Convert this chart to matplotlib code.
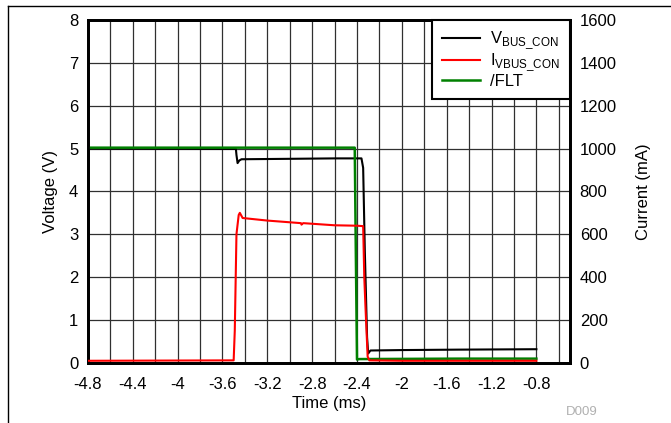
import matplotlib.pyplot as plt
from matplotlib.lines import Line2D

plt.rcParams['font.family'] = ['Liberation Sans', 'DejaVu Sans']

# VBUS_CON voltage (V)
t_vbus = [-4.8, -3.48, -3.475, -3.465, -3.45, -3.43, -3.0, -2.6, -2.36, -2.345, -2.33, -2.31, -2.30, -2.28, -2.0, -1.5, -0.8]
v_vbus = [5.0, 4.99, 4.85, 4.66, 4.72, 4.75, 4.76, 4.77, 4.77, 4.55, 2.6, 0.6, 0.22, 0.29, 0.30, 0.31, 0.32]

# IVBUS_CON current (mA)
t_ibus = [-4.8, -3.5, -3.49, -3.475, -3.455, -3.445, -3.42, -3.2, -3.0, -2.9, -2.895, -2.88, -2.6, -2.4, -2.345, -2.335, -2.325, -2.315, -2.305, -2.29, -2.0, -0.8]
i_ibus = [10, 12, 150, 600, 690, 700, 676, 664, 656, 652, 645, 652, 642, 640, 638, 400, 270, 150, 30, 12, 10, 10]

# /FLT voltage (V)
t_flt = [-4.8, -2.42, -2.41, -2.40, -2.38, -1.5, -0.8]
v_flt = [5.02, 5.02, 2.5, 0.08, 0.09, 0.10, 0.10]

x_ticks = [-4.8, -4.4, -4, -3.6, -3.2, -2.8, -2.4, -2, -1.6, -1.2, -0.8]
x_tick_labels = ['-4.8', '-4.4', '-4', '-3.6', '-3.2', '-2.8', '-2.4', '-2', '-1.6', '-1.2', '-0.8']

fig = plt.figure(figsize=(6.71, 4.23), dpi=100)
ax = fig.add_axes([0.131, 0.142, 0.7185, 0.811])
ax2 = ax.twinx()

l1, = ax.plot(t_vbus, v_vbus, color='black', lw=1.5, zorder=3)
l3, = ax.plot(t_flt, v_flt, color='#008000', lw=1.8, zorder=4)
l2, = ax2.plot(t_ibus, i_ibus, color='red', lw=1.5, zorder=3)

ax.set_xlim(-4.8, -0.5)
ax.set_ylim(0, 8)
ax2.set_ylim(0, 1600)
ax.set_xticks(x_ticks)
ax.set_xticklabels(x_tick_labels)
ax.set_xticks([x + 0.2 for x in x_ticks], minor=True)
ax.set_yticks(range(0, 9))
ax2.set_yticks(range(0, 1601, 200))

ax.grid(True, which='both', axis='x', color='#303030', lw=0.9)
ax.grid(True, which='major', axis='y', color='#303030', lw=0.9)
ax.set_axisbelow(True)

for a in (ax, ax2):
    a.tick_params(which='both', length=0, labelsize=12, pad=7)
    for s in a.spines.values():
        s.set_linewidth(2)
ax.tick_params(axis='x', pad=10)

ax.set_xlabel('Time (ms)', fontsize=12, labelpad=3)
ax.set_ylabel('Voltage (V)', fontsize=12, labelpad=8)
ax2.set_ylabel('Current (mA)', fontsize=12, labelpad=14)

leg = ax2.legend([l1, l2, l3],
                 [r'V$_{\mathregular{BUS\_CON}}$', r'I$_{\mathregular{VBUS\_CON}}$', '/FLT'],
                 loc='upper right', fontsize=12, frameon=True, fancybox=False,
                 borderaxespad=0, handlelength=2.3, handletextpad=0.6,
                 labelspacing=0.0, borderpad=0.6, framealpha=1)
leg.get_frame().set_edgecolor('black')
leg.get_frame().set_linewidth(1.5)

fig.text(0.867, 0.018, 'D009', fontsize=9.5, color='#b0b0b0', ha='center')

# outer frame lines
fig.add_artist(Line2D([0.012, 0.012], [0, 0.986], color='black', lw=1))
fig.add_artist(Line2D([0.012, 1.0], [0.986, 0.986], color='black', lw=1))

fig.savefig('out.png', dpi=100)
